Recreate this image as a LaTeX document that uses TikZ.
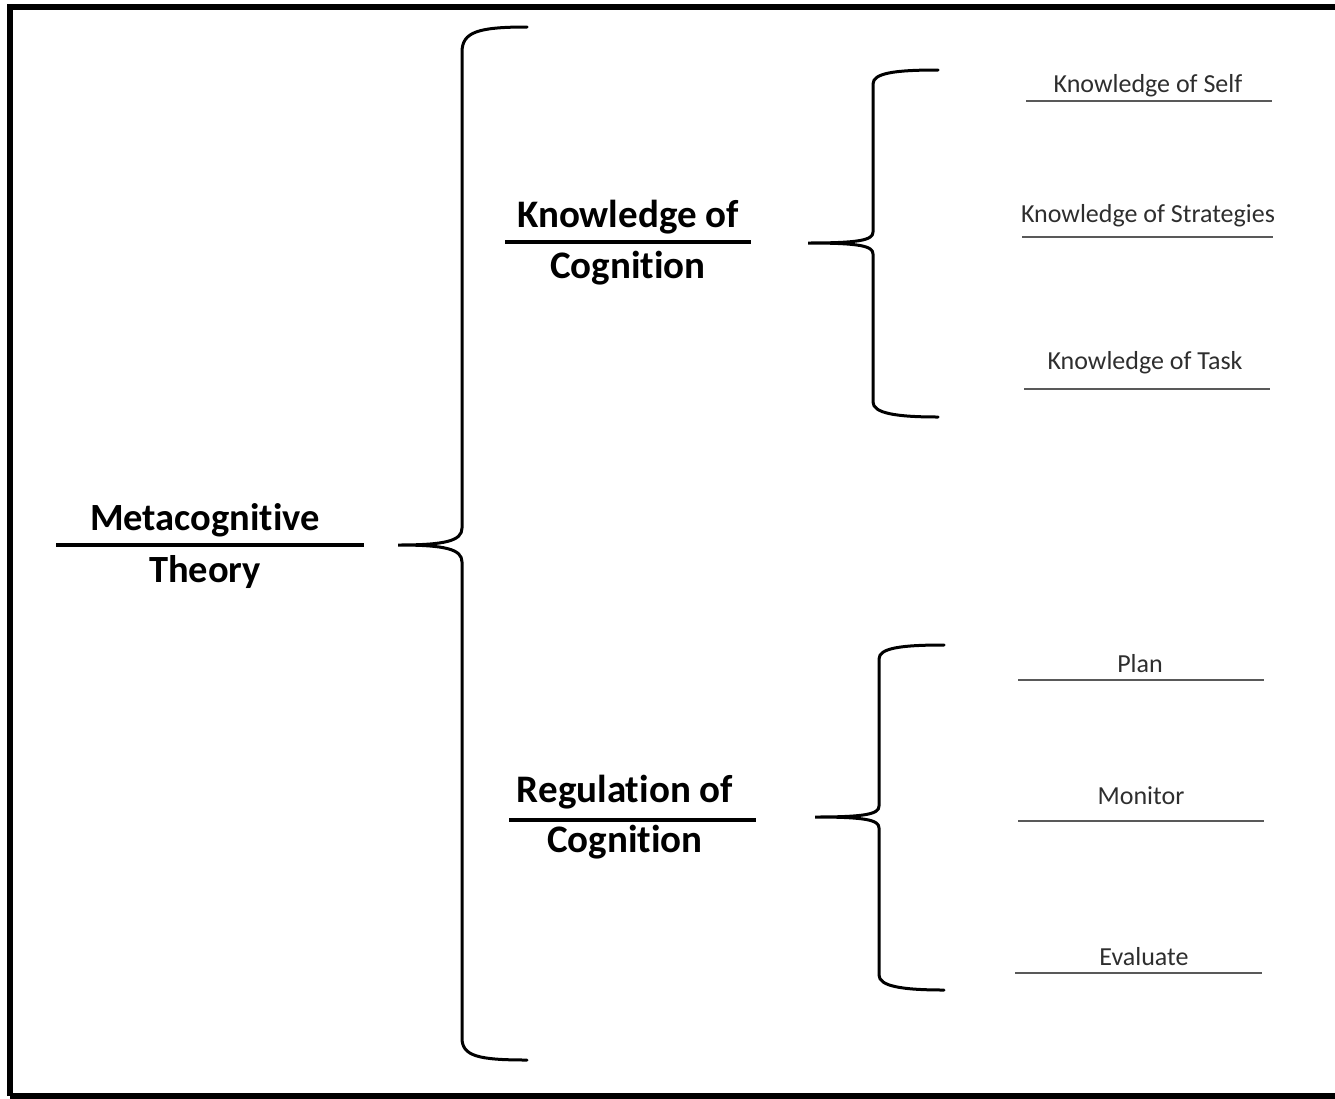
\documentclass[tikz,border=0pt]{standalone}
\usepackage{fontspec}
\setmainfont{Carlito}[Ligatures=NoCommon]
\begin{document}
\begin{tikzpicture}[x=1pt,y=-1pt,
  bigtxt/.style={font=\bfseries\fontsize{38.5}{44}\selectfont, text=black, inner sep=0pt, anchor=base},
  midtxt/.style={font=\bfseries\fontsize{39}{44}\selectfont, text=black, inner sep=0pt, anchor=base},
  smalltxt/.style={font=\fontsize{26}{30}\selectfont, text=black!82, inner sep=0pt, anchor=base},
  brace/.style={line width=3pt, black, line cap=round},
  bar/.style={line width=3.5pt, black},
  thinbar/.style={line width=2pt, black!65}]
\useasboundingbox (0,0) rectangle (1335,1098);
\draw[line width=6pt] (10,1096) -- (10,7) -- (1340,7);
\draw[line width=6pt] (10,1096) -- (1340,1096);

% Main title
\node[bigtxt] (mt1) at (205,530) {Metacognitive};
\node[bigtxt] (mt2) at (205,582) {Theory};
\coordinate (mtL) at (56,545);
\coordinate (mtR) at (364,545);
\draw[line width=4.5pt] (mtL) -- (mtR);

% Main brace
\coordinate (mbTip) at (398,545);
\coordinate (mbTop) at (527,27);
\coordinate (mbBot) at (527,1060);
\draw[brace] (mbTop) .. controls (478,27) and (462,32) .. (462,52) -- (462,528)
  .. controls (462,541) and (445,545) .. (mbTip)
  .. controls (445,545) and (462,549) .. (462,562) -- (462,1038)
  .. controls (462,1056) and (478,1060) .. (mbBot);

% Knowledge of Cognition
\node[midtxt] (kc1) at (628,227) {Knowledge of};
\node[midtxt] (kc2) at (628,278) {Cognition};
\coordinate (kcL) at (505,242);
\coordinate (kcR) at (751,242);
\draw[bar] (kcL) -- (kcR);

% Regulation of Cognition
\node[midtxt] (rc1) at (625,802) {Regulation of};
\node[midtxt] (rc2) at (625,852) {Cognition};
\coordinate (rcL) at (509,820);
\coordinate (rcR) at (756,820);
\draw[bar] (rcL) -- (rcR);

% KoC brace
\coordinate (kbTip) at (808,243);
\coordinate (kbTop) at (938,70);
\coordinate (kbBot) at (938,417);
\draw[brace] (kbTop) .. controls (895,70) and (873,73) .. (873,84) -- (873,232)
  .. controls (873,240) and (860,243) .. (kbTip)
  .. controls (860,243) and (873,246) .. (873,254) -- (873,402)
  .. controls (873,413) and (895,417) .. (kbBot);

% RoC brace
\coordinate (rbTip) at (815,817);
\coordinate (rbTop) at (944,645);
\coordinate (rbBot) at (944,990);
\draw[brace] (rbTop) .. controls (901,645) and (879,648) .. (879,659) -- (879,806)
  .. controls (879,814) and (866,817) .. (rbTip)
  .. controls (866,817) and (879,820) .. (879,828) -- (879,975)
  .. controls (879,986) and (901,990) .. (rbBot);

% Leaves
\node[smalltxt] (ks) at (1148,92) {Knowledge of Self};
\draw[thinbar] (1026,101) coordinate (ksL) -- (1272,101) coordinate (ksR);
\node[smalltxt] (kst) at (1148,222) {Knowledge of Strategies};
\draw[thinbar] (1022,237) coordinate (kstL) -- (1273,237) coordinate (kstR);
\node[smalltxt] (kt) at (1145,369) {Knowledge of Task};
\draw[thinbar] (1024,389) coordinate (ktL) -- (1270,389) coordinate (ktR);
\node[smalltxt] (pl) at (1140,672) {Plan};
\draw[thinbar] (1018,680) coordinate (plL) -- (1264,680) coordinate (plR);
\node[smalltxt] (mo) at (1141,804) {Monitor};
\draw[thinbar] (1018,821) coordinate (moL) -- (1264,821) coordinate (moR);
\node[smalltxt] (ev) at (1144,965) {Evaluate};
\draw[thinbar] (1015,973) coordinate (evL) -- (1262,973) coordinate (evR);
\end{tikzpicture}
\end{document}
